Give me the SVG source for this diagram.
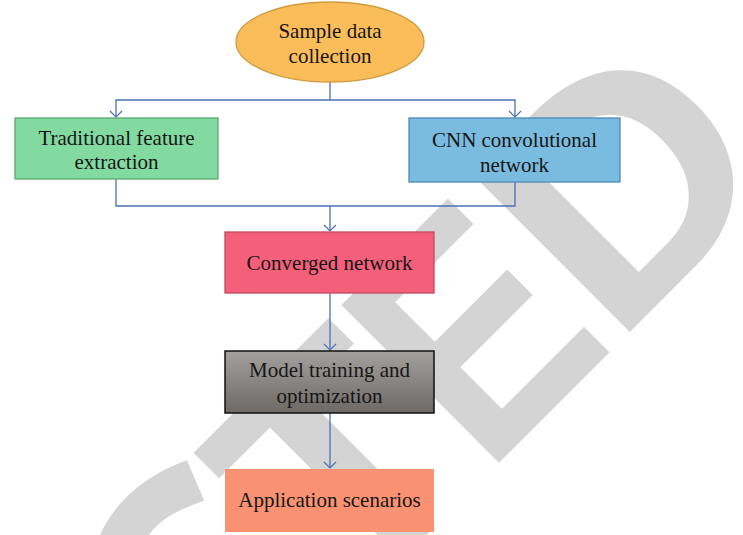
<svg xmlns="http://www.w3.org/2000/svg" width="743" height="535" viewBox="0 0 743 535">
  <style>
    .lbl { font-family: "Liberation Serif", "Times New Roman", serif; font-size: 21px; fill: #161616; text-anchor: middle; }
    .wire { fill: none; stroke: #4a6fb5; stroke-width: 1.3; }
    .wm { font-family: "Liberation Sans", Arial, sans-serif; font-weight: bold; font-size: 324px; fill: #d4d4d4; }
    .wm-round { font-family: "Open Sans", "Liberation Sans", sans-serif; font-weight: bold; font-size: 330px; fill: #d4d4d4; }
  </style>
  <defs>
    <marker id="arr" viewBox="-8 -8 10 16" markerWidth="10" markerHeight="16" refX="0" refY="0" orient="auto" markerUnits="userSpaceOnUse">
      <path d="M-6,-6 L0,0 L-6,6" fill="none" stroke="#4a6fb5" stroke-width="1.2"/>
    </marker>
    <linearGradient id="greyFill" x1="0" y1="0" x2="0" y2="1">
      <stop offset="0" stop-color="#a3a09e"/>
      <stop offset="1" stop-color="#6d6967"/>
    </linearGradient>
  </defs>

  <rect width="743" height="535" fill="#ffffff"/>

  <!-- diagonal background stamp -->
  <g id="watermark" transform="rotate(-45)">
    <text class="wm-round" x="-392" y="680">C</text>
    <text class="wm" x="-187" y="680">T</text>
    <text class="wm" transform="translate(7,680) scale(0.86,1)">E</text>
    <text class="wm" transform="translate(188,680) scale(1.045,1)">D</text>
  </g>

  <!-- connectors -->
  <g id="connectors">
    <path class="wire" d="M330,82 V100"/>
    <path class="wire" d="M330,100 H116 V117" marker-end="url(#arr)"/>
    <path class="wire" d="M330,100 H515 V117" marker-end="url(#arr)"/>
    <path class="wire" d="M116,179 V206 H515 V182"/>
    <path class="wire" d="M330,206 V231" marker-end="url(#arr)"/>
    <path class="wire" d="M330,293 V350" marker-end="url(#arr)"/>
    <path class="wire" d="M330,413 V468" marker-end="url(#arr)"/>
  </g>

  <g id="sample">
    <ellipse cx="330" cy="42" rx="94" ry="40" fill="#fbbd59" stroke="#d29a3e" stroke-width="1.3"/>
    <text class="lbl" x="330" y="38">Sample data</text>
    <text class="lbl" x="330" y="63">collection</text>
  </g>

  <g id="traditional">
    <rect x="15" y="118" width="203" height="61" fill="#82daa0" stroke="#5aab72" stroke-width="1.3"/>
    <text class="lbl" x="116.5" y="145">Traditional feature</text>
    <text class="lbl" x="116.5" y="169">extraction</text>
  </g>

  <g id="cnn">
    <rect x="409" y="118" width="211" height="64" fill="#7abbe0" stroke="#4f89b9" stroke-width="1.3"/>
    <text class="lbl" x="514.5" y="147">CNN convolutional</text>
    <text class="lbl" x="514.5" y="172">network</text>
  </g>

  <g id="converged">
    <rect x="225" y="232" width="209" height="61" fill="#f4607a" stroke="#c24a60" stroke-width="1.3"/>
    <text class="lbl" x="329.5" y="270">Converged network</text>
  </g>

  <g id="training">
    <rect x="225" y="351" width="209" height="62" fill="url(#greyFill)" stroke="#111111" stroke-width="1.5"/>
    <text class="lbl" x="329.5" y="377">Model training and</text>
    <text class="lbl" x="329.5" y="403">optimization</text>
  </g>

  <g id="application">
    <rect x="225" y="469" width="209" height="63" fill="#f99272"/>
    <text class="lbl" x="329.5" y="507">Application scenarios</text>
  </g>
</svg>
